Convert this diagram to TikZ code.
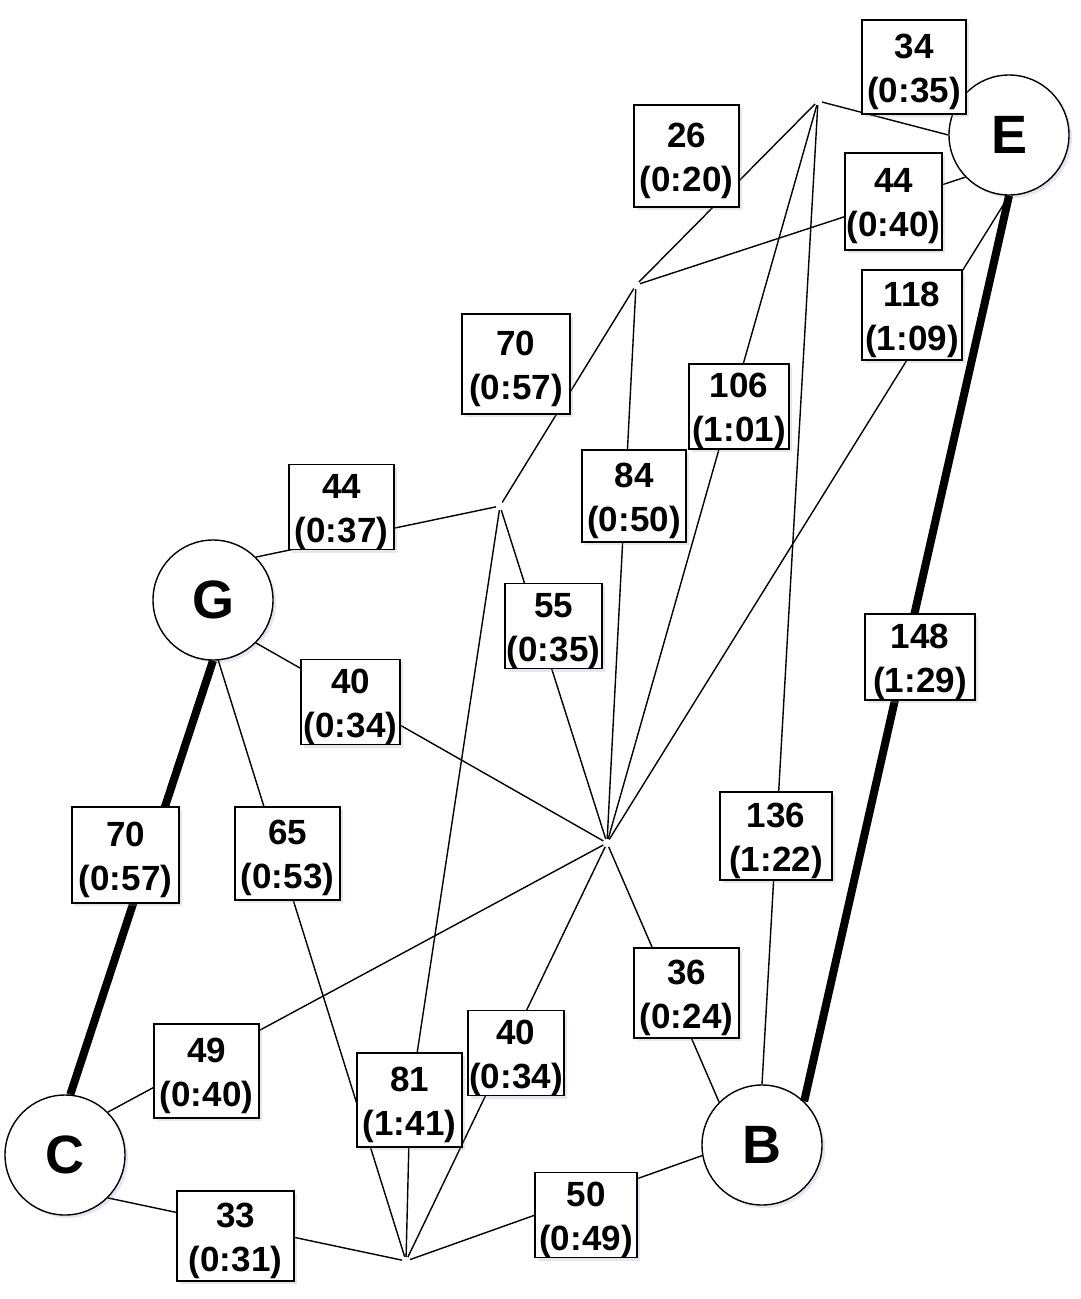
\documentclass[tikz,border=0pt]{standalone}
\usepackage{fontspec}
\setmainfont{Liberation Sans}
\usetikzlibrary{shadows}
\newcommand{\topstrut}{\rule{0pt}{34pt}}
\begin{document}
\begin{tikzpicture}[x=1pt,y=-1pt,
  shade/.style={drop shadow={shadow xshift=3pt,shadow yshift=-3pt,opacity=0.25,fill=black!40!blue!40}},
  city/.style={circle,draw,line width=1.4pt,fill=white,minimum size=120pt,inner sep=0pt,
    font=\fontsize{54}{54}\selectfont\bfseries,shade},
  jn/.style={circle,inner sep=0pt,minimum size=8pt,draw=none},
  road/.style={line width=1.4pt},
  main/.style={line width=8pt},
  lab/.style 2 args={draw,line width=1.4pt,fill=white,align=center,inner sep=0pt,
    minimum width=#1,minimum height=#2,font=\fontsize{35}{44}\selectfont\bfseries,shade}]
\useasboundingbox (0,0) rectangle (1080,1299);
% cities
\node[city] (E) at (1009,135) {E};
\node[city] (G) at (213,600) {G};
\node[city] (C) at (65,1155) {C};
\node[city] (B) at (762,1145) {B};
% junctions
\node[jn] (J1) at (818,101) {};
\node[jn] (J2) at (636,285) {};
\node[jn] (J3) at (500,506) {};
\node[jn] (J4) at (607,843) {};
\node[jn] (J5) at (406,1261) {};
% label anchor for the bent road
\coordinate (K81) at (410,1100);
% roads
\draw[road] (J1) -- (E.west);
\draw[road] (J1) -- (J2);
\draw[road] (J2) -- (E.224);
\draw[road] (J2) -- (J3);
\draw[road] (J2) -- (J4);
\draw[road] (J1) -- (J4);
\draw[road] (J1) -- (B.north);
\draw[road] (E.south) -- (J4);
\draw[road] (G.45) -- (J3);
\draw[road] (J3) -- (J4);
\draw[road] (G.-45) -- (J4);
\draw[road] (G.-85) -- (J5);
\draw[road] (J3) -- (K81) -- (J5);
\draw[road] (J4) -- (C.45);
\draw[road] (J4) -- (J5);
\draw[road] (J4) -- (B.135);
\draw[road] (C.-45) -- (J5);
\draw[road] (J5) -- (B.190);
\draw[main] (E.south) -- (B.46);
\draw[main] (G.south) -- (C.85);
% labels
\node[lab={104pt}{94pt}]  (l1)  at (914,67)    {\topstrut34\\(0:35)};
\node[lab={105pt}{102pt}] (l2)  at (686.5,156) {\topstrut26\\(0:20)};
\node[lab={97pt}{97pt}]   (l3)  at (893.5,201.5) {\topstrut44\\(0:40)};
\node[lab={100pt}{90pt}]  (l4)  at (912,315)   {\topstrut118\\(1:09)};
\node[lab={108pt}{100pt}] (l5)  at (516,364)   {\topstrut70\\(0:57)};
\node[lab={100pt}{75pt}]  (l6)  at (739,406.5) {\topstrut106\\(1:01)};
\node[lab={104pt}{92pt}]  (l7)  at (634,496)   {\topstrut84\\(0:50)};
\node[lab={105pt}{84pt}]  (l8)  at (341.5,507) {\topstrut44\\(0:37)};
\node[lab={97pt}{82pt}]   (l9)  at (553.5,626) {\topstrut55\\(0:35)};
\node[lab={99pt}{84pt}]   (l10) at (350.5,702) {\topstrut40\\(0:34)};
\node[lab={110pt}{86pt}]  (l11) at (920,657)   {\topstrut148\\(1:29)};
\node[lab={112pt}{88pt}]  (l12) at (776,836)   {\topstrut136\\(1:22)};
\node[lab={107pt}{96pt}]  (l13) at (125.5,855) {\topstrut70\\(0:57)};
\node[lab={105pt}{93pt}]  (l14) at (287.5,853.5) {\topstrut65\\(0:53)};
\node[lab={105pt}{90pt}]  (l15) at (686.5,993) {\topstrut36\\(0:24)};
\node[lab={105pt}{94pt}]  (l16) at (206.5,1071) {\topstrut49\\(0:40)};
\node[lab={105pt}{94pt}]  (l17) at (409.5,1100) {\topstrut81\\(1:41)};
\node[lab={96pt}{84pt}]   (l18) at (516,1053)  {\topstrut40\\(0:34)};
\node[lab={102pt}{84pt}]  (l19) at (586,1215)  {\topstrut50\\(0:49)};
\node[lab={117pt}{90pt}]  (l20) at (235.5,1236) {\topstrut33\\(0:31)};
\end{tikzpicture}
\end{document}
